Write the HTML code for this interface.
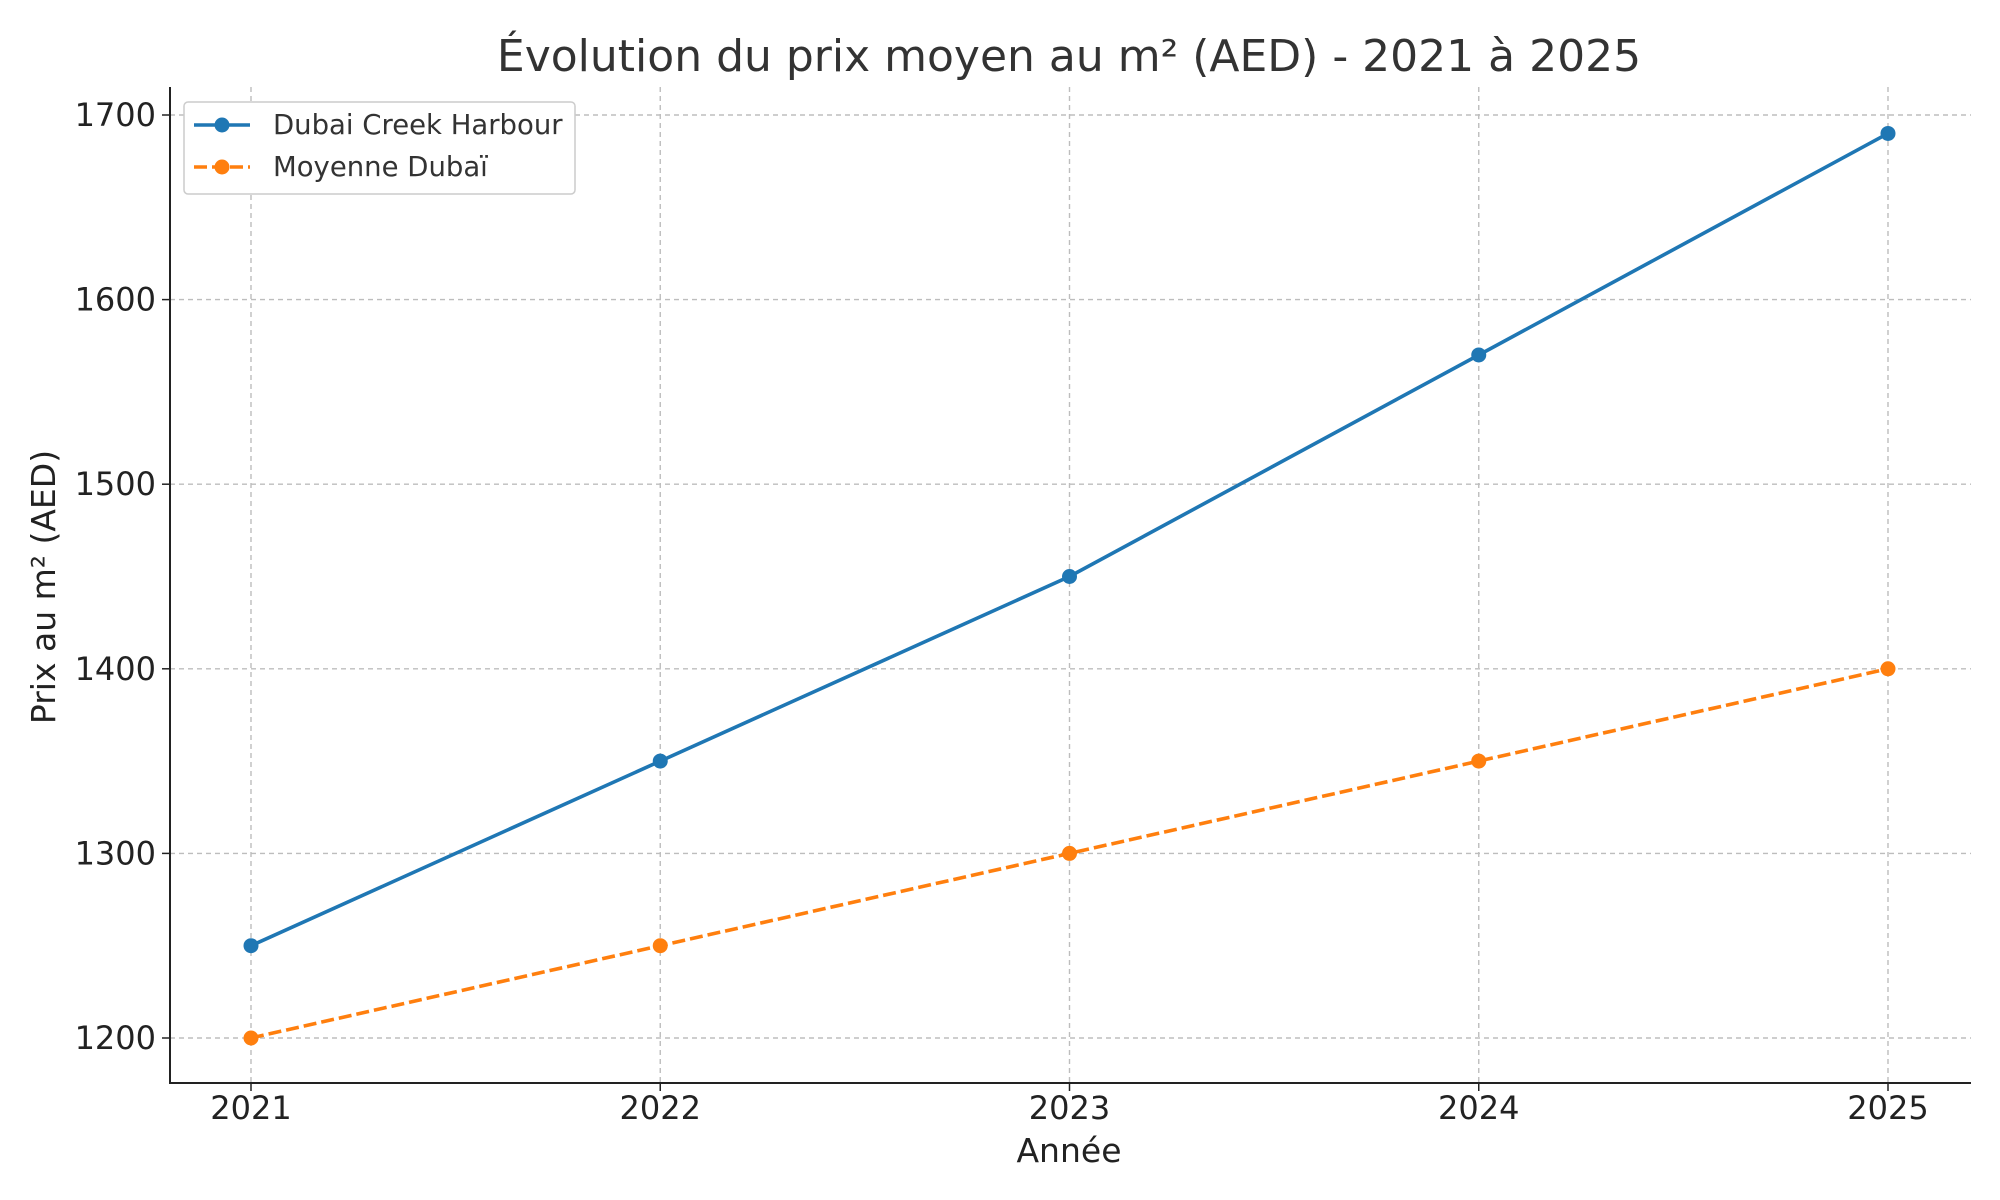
<!DOCTYPE html>
<html><head><meta charset="utf-8"><style>
body{margin:0;background:#fff}
svg{display:block;font-family:"DejaVu Sans","Liberation Sans",sans-serif}
</style></head><body>
<svg id="chart" width="2000" height="1200" viewBox="0 0 2000 1200" xmlns="http://www.w3.org/2000/svg">
<rect width="2000" height="1200" fill="#fff"/>
<text x="1069" y="71" font-size="44" text-anchor="middle" fill="#333">Évolution du prix moyen au m² (AED) - 2021 à 2025</text>
<g id="grid"></g>
<g id="axes"></g>
<g id="series"></g>
<text x="1069" y="1162" font-size="33" text-anchor="middle" fill="#222">Année</text>
<text transform="translate(55,587) rotate(-90)" font-size="33" text-anchor="middle" fill="#222">Prix au m² (AED)</text>
<g>
<rect x="184" y="102" width="391" height="92" rx="4" fill="#fff" stroke="#ccc" stroke-width="1.5"/>
<g>
<line x1="194" y1="125" x2="250" y2="125" stroke="#1f77b4" stroke-width="3.6"/>
<circle cx="222" cy="125" r="7.5" fill="#1f77b4"/>
<text x="273" y="134" font-size="27.5" fill="#333">Dubai Creek Harbour</text></g>
<g>
<line x1="194" y1="167" x2="250" y2="167" stroke="#ff7f0e" stroke-width="3.6" stroke-dasharray="13,5"/>
<circle cx="222" cy="167" r="7.5" fill="#ff7f0e"/>
<text x="273" y="176" font-size="27.5" fill="#333">Moyenne Dubaï</text></g>
</g>
</svg>
<script>
const years=["2021","2022","2023","2024","2025"];
const creekValues=[1250,1350,1450,1570,1690];
const dubaiValues=[1200,1250,1300,1350,1400];
const yTicks=[1200,1300,1400,1500,1600,1700];
const NS="http://www.w3.org/2000/svg";
const L=170,R=1971,T=87,B=1083;
const xs=i=>251+i*(1888-251)/(years.length-1);
const ys=v=>1038-(v-1200)*(1038-115)/500;
function mk(tag,attrs,parent){const e=document.createElementNS(NS,tag);for(const k in attrs)e.setAttribute(k,attrs[k]);parent.appendChild(e);return e;}
const grid=document.getElementById('grid'),axes=document.getElementById('axes'),ser=document.getElementById('series');
years.forEach((y,i)=>{
 const g=mk('line',{x1:xs(i),x2:xs(i),y1:T,y2:B,stroke:'#bdbdbd','stroke-width':1.4,'stroke-dasharray':'5,4'},grid);
 
 
 const tk=mk('line',{x1:xs(i),x2:xs(i),y1:B,y2:B+8,stroke:'#222','stroke-width':1.5},axes);
 
 
 const t=mk('text',{x:xs(i),y:B+36,'font-size':32,'text-anchor':'middle',fill:'#222'},axes);
 t.textContent=y;
 
 
});
yTicks.forEach(v=>{
 const g=mk('line',{x1:L,x2:R,y1:ys(v),y2:ys(v),stroke:'#bdbdbd','stroke-width':1.4,'stroke-dasharray':'5,4'},grid);
 
 
 const tk=mk('line',{x1:L-8,x2:L,y1:ys(v),y2:ys(v),stroke:'#222','stroke-width':1.5},axes);
 
 
 const t=mk('text',{x:L-14,y:ys(v)+11,'font-size':32,'text-anchor':'end',fill:'#222'},axes);
 t.textContent=v;
 
 
});
const ax=mk('path',{d:`M${L},${T} L${L},${B} L${R},${B}`,fill:'none',stroke:'#222','stroke-width':2},axes);


function series(vals,color,dash,name){
 const p=mk('polyline',{points:vals.map((v,i)=>xs(i)+','+ys(v)).join(' '),fill:'none',stroke:color,'stroke-width':3.6,'stroke-dasharray':dash},ser);
 
 
 vals.forEach((v,i)=>{
  const c=mk('circle',{cx:xs(i),cy:ys(v),r:7.5,fill:color},ser);
  
  
 });
}
series(dubaiValues,'#ff7f0e','13,5','moyenne-dubai');
series(creekValues,'#1f77b4','none','dubai-creek-harbour');
</script>
</body></html>
